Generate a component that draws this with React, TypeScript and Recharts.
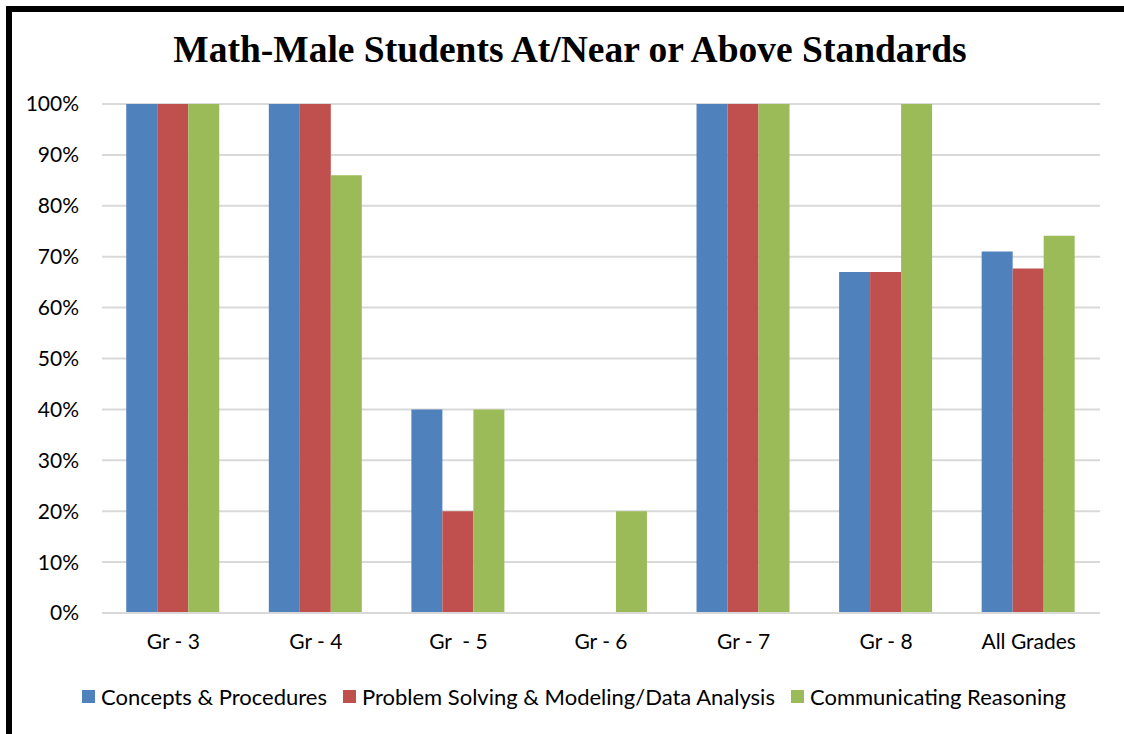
import React from 'react';
import { BarChart, Bar, XAxis, YAxis, CartesianGrid } from 'recharts';

const categories = ['Gr - 3', 'Gr - 4', 'Gr \u00A0- 5', 'Gr - 6', 'Gr - 7', 'Gr - 8', 'All Grades'];
const conceptsProcedures = [100, 100, 40, 0, 100, 67, 71];
const problemSolving = [100, 100, 20, 0, 100, 67, 67.7];
const communicatingReasoning = [100, 86, 40, 20, 100, 100, 74.1];
const yTicks = [0, 10, 20, 30, 40, 50, 60, 70, 80, 90, 100];

const seriesNames = [
  'Concepts & Procedures',
  'Problem Solving & Modeling/Data Analysis',
  'Communicating Reasoning',
];
const seriesColors = ['#4F81BD', '#C0504D', '#9BBB59'];

const data = categories.map((c, i) => ({
  name: c,
  cp: conceptsProcedures[i],
  ps: problemSolving[i],
  cr: communicatingReasoning[i],
}));

const FONT = 'Lato, "Open Sans", sans-serif';

export default function App() {
  return (
    <div style={{ position: 'absolute', left: 0, top: 0, width: 1124, height: 734, background: '#fff', overflow: 'hidden' }}>
      <div
        style={{
          position: 'absolute',
          left: 6,
          top: 6,
          width: 1124,
          height: 726,
          borderLeft: '6px solid #000',
          borderTop: '6px solid #000',
          borderBottom: '2px solid #999',
        }}
      />
      <div
        style={{
          position: 'absolute',
          left: 0,
          width: 1140,
          top: 28,
          textAlign: 'center',
          fontFamily: '"Liberation Serif", "Times New Roman", serif',
          fontWeight: 'bold',
          fontSize: 37.5,
          color: '#000',
        }}
      >
        Math-Male Students At/Near or Above Standards
      </div>
      <div style={{ position: 'absolute', left: 0, top: 0 }}>
        <BarChart
          width={1124}
          height={734}
          data={data}
          margin={{ top: 104, right: 24, bottom: 81, left: 0 }}
          barCategoryGap="17%"
          barGap={0}
        >
          <CartesianGrid vertical={false} stroke="#D9D9D9" strokeWidth={2} />
          <XAxis
            dataKey="name"
            height={40}
            axisLine={{ stroke: '#D9D9D9', strokeWidth: 2 }}
            tickLine={false}
            tickSize={0}
            tickMargin={21}
            interval={0}
            tick={{ fill: '#000', fontSize: 21, fontFamily: FONT }}
          />
          <YAxis
            width={102}
            domain={[0, 100]}
            ticks={yTicks}
            interval={0}
            axisLine={false}
            tickLine={false}
            tickSize={0}
            tickMargin={23}
            tickFormatter={(v: number) => `${v}%`}
            tick={{ fill: '#000', fontSize: 21, fontFamily: FONT }}
          />
          <Bar dataKey="cp" name={seriesNames[0]} fill={seriesColors[0]} isAnimationActive={false} />
          <Bar dataKey="ps" name={seriesNames[1]} fill={seriesColors[1]} isAnimationActive={false} />
          <Bar dataKey="cr" name={seriesNames[2]} fill={seriesColors[2]} isAnimationActive={false} />
        </BarChart>
      </div>
      <div
        style={{
          position: 'absolute',
          left: 0,
          width: 1148,
          top: 683,
          display: 'flex',
          justifyContent: 'center',
          alignItems: 'center',
          fontFamily: FONT,
          fontSize: 22,
          color: '#000',
        }}
      >
        {seriesNames.map((n, i) => (
          <div key={n} style={{ display: 'flex', alignItems: 'center', marginRight: i < 2 ? 16 : 0 }}>
            <div style={{ width: 13, height: 13, background: seriesColors[i], marginRight: 6 }} />
            <span>{n}</span>
          </div>
        ))}
      </div>
    </div>
  );
}
